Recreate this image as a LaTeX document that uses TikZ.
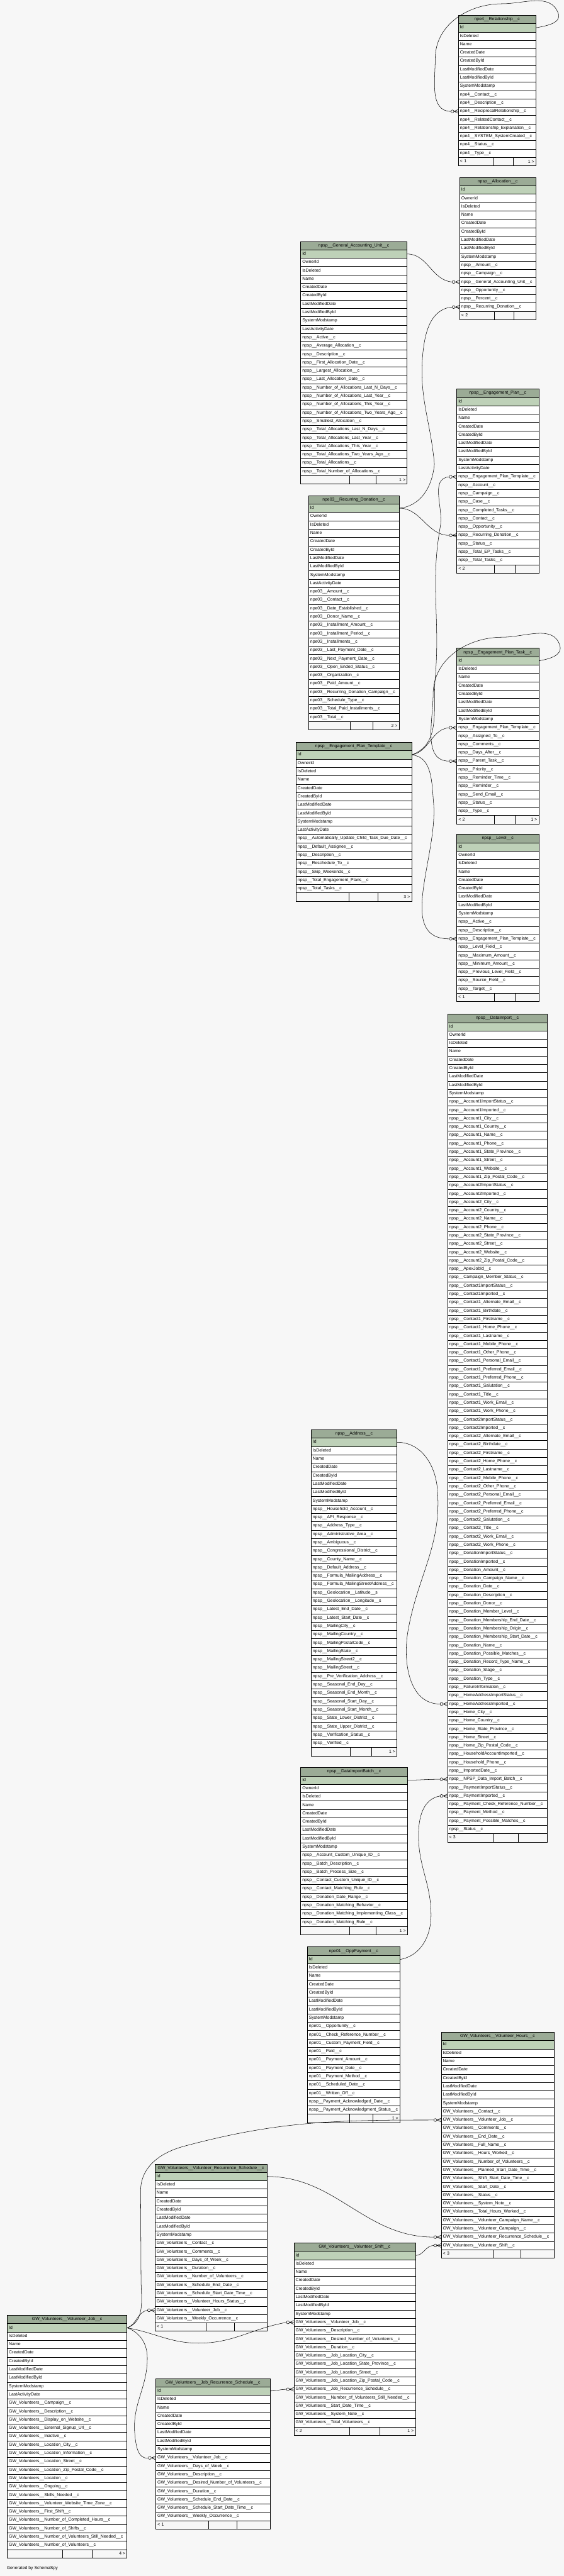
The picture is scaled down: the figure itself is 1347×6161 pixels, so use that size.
\documentclass[tikz,border=0pt]{standalone}
\usepackage{fontspec}
\setmainfont{Liberation Sans}

\definecolor{canvas}{HTML}{F7F7F7}
\definecolor{headfill}{HTML}{9BAB96}
\definecolor{keyfill}{HTML}{BED1B8}

\tikzset{
  tblcell/.style={draw, line width=0.8pt, inner xsep=4pt, inner ysep=0pt, minimum height=20pt,
    text height=7.5pt, text depth=2.5pt, align=left, font=\fontsize{10.4}{12}\selectfont},
  tblhead/.style={tblcell, fill=headfill, align=center},
  tblkey/.style={tblcell, fill=keyfill},
  tblrow/.style={tblcell, fill=white},
  tblfoot/.style={tblcell, fill=canvas},
  relline/.style={line width=0.8pt},
}

\newcount\nrows
% #1 prefix, #2 left, #3 right, #4 top, #5 title, #6 footer left, #7 footer right, #8 columns
\newcommand{\dbtable}[8]{%
  \pgfmathsetmacro{\tw}{#3-#2-8}
  \node[tblhead, text width=\tw pt, anchor=north west] (#1-0) at (#2,#4) {#5};
  \foreach \col [count=\i] in {#8} {
    \ifnum\i=1 \def\rowstyle{tblkey}\else\def\rowstyle{tblrow}\fi
    \node[\rowstyle, text width=\tw pt, anchor=north west] (#1-\i) at (#2,#4+20*\i) {\col};
    \global\nrows=\i
  }
  \pgfmathsetmacro{\fy}{#4+20*(\the\nrows+1)}
  \node[tblfoot, text width=\tw pt, anchor=north west] (#1-foot) at (#2,\fy) {#6};
  \node[anchor=east, inner xsep=4pt, font=\fontsize{10.4}{12}\selectfont] (#1-more) at (#1-foot.east) {#7};
  \draw[line width=0.8pt] (#2+0.46*#3-0.46*#2,\fy) -- ++(0,20);
  \draw[line width=0.8pt] (#2+0.71*#3-0.71*#2,\fy) -- ++(0,20);
}

% zero-or-many end at the west side of a column
\newcommand{\crowfoot}[1]{%
  \begin{scope}[shift={(#1.west)}]
    \draw[relline] (-10,0) -- (0,-4.5) (-10,0) -- (0,0) (-10,0) -- (0,4.5);
    \draw[relline, fill=canvas] (-14,0) circle (3.5);
  \end{scope}}

\begin{document}
\catcode`\_=12
\begin{tikzpicture}[x=1pt, y=-1pt]
  \fill[canvas] (0,0) rectangle (1347,6161);
  \useasboundingbox (0,0) rectangle (1347,6161);

  % right column
  \dbtable{rel}{1095}{1280}{36}{npe4__Relationship__c}{< 1}{1 >}{Id, IsDeleted, Name, CreatedDate, CreatedById,
    LastModifiedDate, LastModifiedById, SystemModstamp, npe4__Contact__c, npe4__Description__c,
    npe4__ReciprocalRelationship__c, npe4__RelatedContact__c, npe4__Relationship_Explanation__c,
    npe4__SYSTEM_SystemCreated__c, npe4__Status__c, npe4__Type__c}
  \dbtable{alloc}{1098}{1280}{424}{npsp__Allocation__c}{< 2}{}{Id, OwnerId, IsDeleted, Name, CreatedDate,
    CreatedById, LastModifiedDate, LastModifiedById, SystemModstamp, npsp__Amount__c, npsp__Campaign__c,
    npsp__General_Accounting_Unit__c, npsp__Opportunity__c, npsp__Percent__c, npsp__Recurring_Donation__c}
  \dbtable{ep}{1091}{1287}{930}{npsp__Engagement_Plan__c}{< 2}{}{Id, IsDeleted, Name, CreatedDate, CreatedById,
    LastModifiedDate, LastModifiedById, SystemModstamp, LastActivityDate, npsp__Engagement_Plan_Template__c,
    npsp__Account__c, npsp__Campaign__c, npsp__Case__c, npsp__Completed_Tasks__c, npsp__Contact__c,
    npsp__Opportunity__c, npsp__Recurring_Donation__c, npsp__Status__c, npsp__Total_EP_Tasks__c,
    npsp__Total_Tasks__c}
  \dbtable{eptask}{1091}{1287}{1550}{npsp__Engagement_Plan_Task__c}{< 2}{1 >}{Id, IsDeleted, Name, CreatedDate,
    CreatedById, LastModifiedDate, LastModifiedById, SystemModstamp, npsp__Engagement_Plan_Template__c,
    npsp__Assigned_To__c, npsp__Comments__c, npsp__Days_After__c, npsp__Parent_Task__c, npsp__Priority__c,
    npsp__Reminder_Time__c, npsp__Reminder__c, npsp__Send_Email__c, npsp__Status__c, npsp__Type__c}
  \dbtable{level}{1091}{1287}{1995}{npsp__Level__c}{< 1}{}{Id, OwnerId, IsDeleted, Name, CreatedDate,
    CreatedById, LastModifiedDate, LastModifiedById, SystemModstamp, npsp__Active__c, npsp__Description__c,
    npsp__Engagement_Plan_Template__c, npsp__Level_Field__c, npsp__Maximum_Amount__c, npsp__Minimum_Amount__c,
    npsp__Previous_Level_Field__c, npsp__Source_Field__c, npsp__Target__c}
  \dbtable{di}{1069}{1307}{2425}{npsp__DataImport__c}{< 3}{}{Id, OwnerId, IsDeleted, Name, CreatedDate,
    CreatedById, LastModifiedDate, LastModifiedById, SystemModstamp,
    npsp__Account1ImportStatus__c, npsp__Account1Imported__c, npsp__Account1_City__c, npsp__Account1_Country__c,
    npsp__Account1_Name__c, npsp__Account1_Phone__c, npsp__Account1_State_Province__c, npsp__Account1_Street__c,
    npsp__Account1_Website__c, npsp__Account1_Zip_Postal_Code__c,
    npsp__Account2ImportStatus__c, npsp__Account2Imported__c, npsp__Account2_City__c, npsp__Account2_Country__c,
    npsp__Account2_Name__c, npsp__Account2_Phone__c, npsp__Account2_State_Province__c, npsp__Account2_Street__c,
    npsp__Account2_Website__c, npsp__Account2_Zip_Postal_Code__c,
    npsp__ApexJobId__c, npsp__Campaign_Member_Status__c,
    npsp__Contact1ImportStatus__c, npsp__Contact1Imported__c, npsp__Contact1_Alternate_Email__c,
    npsp__Contact1_Birthdate__c, npsp__Contact1_Firstname__c, npsp__Contact1_Home_Phone__c,
    npsp__Contact1_Lastname__c, npsp__Contact1_Mobile_Phone__c, npsp__Contact1_Other_Phone__c,
    npsp__Contact1_Personal_Email__c, npsp__Contact1_Preferred_Email__c, npsp__Contact1_Preferred_Phone__c,
    npsp__Contact1_Salutation__c, npsp__Contact1_Title__c, npsp__Contact1_Work_Email__c,
    npsp__Contact1_Work_Phone__c,
    npsp__Contact2ImportStatus__c, npsp__Contact2Imported__c, npsp__Contact2_Alternate_Email__c,
    npsp__Contact2_Birthdate__c, npsp__Contact2_Firstname__c, npsp__Contact2_Home_Phone__c,
    npsp__Contact2_Lastname__c, npsp__Contact2_Mobile_Phone__c, npsp__Contact2_Other_Phone__c,
    npsp__Contact2_Personal_Email__c, npsp__Contact2_Preferred_Email__c, npsp__Contact2_Preferred_Phone__c,
    npsp__Contact2_Salutation__c, npsp__Contact2_Title__c, npsp__Contact2_Work_Email__c,
    npsp__Contact2_Work_Phone__c,
    npsp__DonationImportStatus__c, npsp__DonationImported__c, npsp__Donation_Amount__c,
    npsp__Donation_Campaign_Name__c, npsp__Donation_Date__c, npsp__Donation_Description__c,
    npsp__Donation_Donor__c, npsp__Donation_Member_Level__c, npsp__Donation_Membership_End_Date__c,
    npsp__Donation_Membership_Origin__c, npsp__Donation_Membership_Start_Date__c, npsp__Donation_Name__c,
    npsp__Donation_Possible_Matches__c, npsp__Donation_Record_Type_Name__c, npsp__Donation_Stage__c,
    npsp__Donation_Type__c, npsp__FailureInformation__c, npsp__HomeAddressImportStatus__c,
    npsp__HomeAddressImported__c, npsp__Home_City__c, npsp__Home_Country__c, npsp__Home_State_Province__c,
    npsp__Home_Street__c, npsp__Home_Zip_Postal_Code__c, npsp__HouseholdAccountImported__c,
    npsp__Household_Phone__c, npsp__ImportedDate__c, npsp__NPSP_Data_Import_Batch__c,
    npsp__PaymentImportStatus__c, npsp__PaymentImported__c, npsp__Payment_Check_Reference_Number__c,
    npsp__Payment_Method__c, npsp__Payment_Possible_Matches__c, npsp__Status__c}
  \dbtable{vh}{1054}{1323}{4860}{GW_Volunteers__Volunteer_Hours__c}{< 3}{}{Id, IsDeleted, Name, CreatedDate,
    CreatedById, LastModifiedDate, LastModifiedById, SystemModstamp, GW_Volunteers__Contact__c,
    GW_Volunteers__Volunteer_Job__c, GW_Volunteers__Comments__c, GW_Volunteers__End_Date__c,
    GW_Volunteers__Full_Name__c, GW_Volunteers__Hours_Worked__c, GW_Volunteers__Number_of_Volunteers__c,
    GW_Volunteers__Planned_Start_Date_Time__c, GW_Volunteers__Shift_Start_Date_Time__c,
    GW_Volunteers__Start_Date__c, GW_Volunteers__Status__c, GW_Volunteers__System_Note__c,
    GW_Volunteers__Total_Hours_Worked__c, GW_Volunteers__Volunteer_Campaign_Name__c,
    GW_Volunteers__Volunteer_Campaign__c, GW_Volunteers__Volunteer_Recurrence_Schedule__c,
    GW_Volunteers__Volunteer_Shift__c}

  % middle column
  \dbtable{gau}{718}{972}{577}{npsp__General_Accounting_Unit__c}{}{1 >}{Id, OwnerId, IsDeleted, Name,
    CreatedDate, CreatedById, LastModifiedDate, LastModifiedById, SystemModstamp, LastActivityDate,
    npsp__Active__c, npsp__Average_Allocation__c, npsp__Description__c, npsp__First_Allocation_Date__c,
    npsp__Largest_Allocation__c, npsp__Last_Allocation_Date__c, npsp__Number_of_Allocations_Last_N_Days__c,
    npsp__Number_of_Allocations_Last_Year__c, npsp__Number_of_Allocations_This_Year__c,
    npsp__Number_of_Allocations_Two_Years_Ago__c, npsp__Smallest_Allocation__c,
    npsp__Total_Allocations_Last_N_Days__c, npsp__Total_Allocations_Last_Year__c,
    npsp__Total_Allocations_This_Year__c, npsp__Total_Allocations_Two_Years_Ago__c,
    npsp__Total_Allocations__c, npsp__Total_Number_of_Allocations__c}
  \dbtable{rd}{737}{953}{1185}{npe03__Recurring_Donation__c}{}{2 >}{Id, OwnerId, IsDeleted, Name, CreatedDate,
    CreatedById, LastModifiedDate, LastModifiedById, SystemModstamp, LastActivityDate, npe03__Amount__c,
    npe03__Contact__c, npe03__Date_Established__c, npe03__Donor_Name__c, npe03__Installment_Amount__c,
    npe03__Installment_Period__c, npe03__Installments__c, npe03__Last_Payment_Date__c,
    npe03__Next_Payment_Date__c, npe03__Open_Ended_Status__c, npe03__Organization__c, npe03__Paid_Amount__c,
    npe03__Recurring_Donation_Campaign__c, npe03__Schedule_Type__c, npe03__Total_Paid_Installments__c,
    npe03__Total__c}
  \dbtable{ept}{707}{983}{1775}{npsp__Engagement_Plan_Template__c}{}{3 >}{Id, OwnerId, IsDeleted, Name,
    CreatedDate, CreatedById, LastModifiedDate, LastModifiedById, SystemModstamp, LastActivityDate,
    npsp__Automatically_Update_Child_Task_Due_Date__c, npsp__Default_Assignee__c, npsp__Description__c,
    npsp__Reschedule_To__c, npsp__Skip_Weekends__c, npsp__Total_Engagement_Plans__c, npsp__Total_Tasks__c}
  \dbtable{addr}{743}{948}{3419}{npsp__Address__c}{}{1 >}{Id, IsDeleted, Name, CreatedDate, CreatedById,
    LastModifiedDate, LastModifiedById, SystemModstamp, npsp__Household_Account__c, npsp__API_Response__c,
    npsp__Address_Type__c, npsp__Administrative_Area__c, npsp__Ambiguous__c, npsp__Congressional_District__c,
    npsp__County_Name__c, npsp__Default_Address__c, npsp__Formula_MailingAddress__c,
    npsp__Formula_MailingStreetAddress__c, npsp__Geolocation__Latitude__s, npsp__Geolocation__Longitude__s,
    npsp__Latest_End_Date__c, npsp__Latest_Start_Date__c, npsp__MailingCity__c, npsp__MailingCountry__c,
    npsp__MailingPostalCode__c, npsp__MailingState__c, npsp__MailingStreet2__c, npsp__MailingStreet__c,
    npsp__Pre_Verification_Address__c, npsp__Seasonal_End_Day__c, npsp__Seasonal_End_Month__c,
    npsp__Seasonal_Start_Day__c, npsp__Seasonal_Start_Month__c, npsp__State_Lower_District__c,
    npsp__State_Upper_District__c, npsp__Verification_Status__c, npsp__Verified__c}
  \dbtable{dib}{718}{973}{4227}{npsp__DataImportBatch__c}{}{1 >}{Id, OwnerId, IsDeleted, Name, CreatedDate,
    CreatedById, LastModifiedDate, LastModifiedById, SystemModstamp, npsp__Account_Custom_Unique_ID__c,
    npsp__Batch_Description__c, npsp__Batch_Process_Size__c, npsp__Contact_Custom_Unique_ID__c,
    npsp__Contact_Matching_Rule__c, npsp__Donation_Date_Range__c, npsp__Donation_Matching_Behavior__c,
    npsp__Donation_Matching_Implementing_Class__c, npsp__Donation_Matching_Rule__c}
  \dbtable{opp}{734}{955}{4656}{npe01__OppPayment__c}{}{1 >}{Id, IsDeleted, Name, CreatedDate, CreatedById,
    LastModifiedDate, LastModifiedById, SystemModstamp, npe01__Opportunity__c,
    npe01__Check_Reference_Number__c, npe01__Custom_Payment_Field__c, npe01__Paid__c,
    npe01__Payment_Amount__c, npe01__Payment_Date__c, npe01__Payment_Method__c, npe01__Scheduled_Date__c,
    npe01__Written_Off__c, npsp__Payment_Acknowledged_Date__c, npsp__Payment_Acknowledgment_Status__c}

  % volunteers
  \dbtable{vrs}{370}{637}{5175}{GW_Volunteers__Volunteer_Recurrence_Schedule__c}{< 1}{}{Id, IsDeleted, Name,
    CreatedDate, CreatedById, LastModifiedDate, LastModifiedById, SystemModstamp, GW_Volunteers__Contact__c,
    GW_Volunteers__Comments__c, GW_Volunteers__Days_of_Week__c, GW_Volunteers__Duration__c,
    GW_Volunteers__Number_of_Volunteers__c, GW_Volunteers__Schedule_End_Date__c,
    GW_Volunteers__Schedule_Start_Date_Time__c, GW_Volunteers__Volunteer_Hours_Status__c,
    GW_Volunteers__Volunteer_Job__c, GW_Volunteers__Weekly_Occurrence__c}
  \dbtable{shift}{702}{992}{5364}{GW_Volunteers__Volunteer_Shift__c}{< 2}{1 >}{Id, IsDeleted, Name,
    CreatedDate, CreatedById, LastModifiedDate, LastModifiedById, SystemModstamp,
    GW_Volunteers__Volunteer_Job__c, GW_Volunteers__Description__c,
    GW_Volunteers__Desired_Number_of_Volunteers__c, GW_Volunteers__Duration__c,
    GW_Volunteers__Job_Location_City__c, GW_Volunteers__Job_Location_State_Province__c,
    GW_Volunteers__Job_Location_Street__c, GW_Volunteers__Job_Location_Zip_Postal_Code__c,
    GW_Volunteers__Job_Recurrence_Schedule__c, GW_Volunteers__Number_of_Volunteers_Still_Needed__c,
    GW_Volunteers__Start_Date_Time__c, GW_Volunteers__System_Note__c, GW_Volunteers__Total_Volunteers__c}
  \dbtable{job}{17}{303}{5537}{GW_Volunteers__Volunteer_Job__c}{}{4 >}{Id, IsDeleted, Name, CreatedDate,
    CreatedById, LastModifiedDate, LastModifiedById, SystemModstamp, LastActivityDate,
    GW_Volunteers__Campaign__c, GW_Volunteers__Description__c, GW_Volunteers__Display_on_Website__c,
    GW_Volunteers__External_Signup_Url__c, GW_Volunteers__Inactive__c, GW_Volunteers__Location_City__c,
    GW_Volunteers__Location_Information__c, GW_Volunteers__Location_Street__c,
    GW_Volunteers__Location_Zip_Postal_Code__c, GW_Volunteers__Location__c, GW_Volunteers__Ongoing__c,
    GW_Volunteers__Skills_Needed__c, GW_Volunteers__Volunteer_Website_Time_Zone__c,
    GW_Volunteers__First_Shift__c, GW_Volunteers__Number_of_Completed_Hours__c,
    GW_Volunteers__Number_of_Shifts__c, GW_Volunteers__Number_of_Volunteers_Still_Needed__c,
    GW_Volunteers__Number_of_Volunteers__c}
  \dbtable{jrs}{372}{645}{5688}{GW_Volunteers__Job_Recurrence_Schedule__c}{< 1}{}{Id, IsDeleted, Name,
    CreatedDate, CreatedById, LastModifiedDate, LastModifiedById, SystemModstamp,
    GW_Volunteers__Volunteer_Job__c, GW_Volunteers__Days_of_Week__c, GW_Volunteers__Description__c,
    GW_Volunteers__Desired_Number_of_Volunteers__c, GW_Volunteers__Duration__c,
    GW_Volunteers__Schedule_End_Date__c, GW_Volunteers__Schedule_Start_Date_Time__c,
    GW_Volunteers__Weekly_Occurrence__c}

  \node[anchor=west, inner sep=0pt, font=\fontsize{10.4}{12}\selectfont] (credit) at (16,6143) {Generated by SchemaSpy};

  % relationships
  \draw[relline] (rel-1.east) to[out=10,in=-70] (1334,32) to[out=110,in=0] (1200,9)
    to[out=180,in=90] (1040,140) to[out=-90,in=180] ([xshift=-17.5pt]rel-11.west);
  \draw[relline] (gau-1.east) to[out=0,in=175] ([xshift=-17.5pt]alloc-12.west);
  \draw[relline] (rd-1.east) to[out=5,in=-95] (1038,1110) to[out=95,in=-95] (1010,850)
    to[out=85,in=185] ([xshift=-17.5pt]alloc-15.west);
  \draw[relline] (rd-1.east) to[out=0,in=180] ([xshift=-17.5pt]ep-17.west);
  \draw[relline] (ept-1.east) to[out=20,in=-95] (1040,1620) to[out=85,in=-100] (1052,1260)
    to[out=80,in=185] ([xshift=-17.5pt]ep-10.west);
  \draw[relline] (ept-1.east) to[out=10,in=185] ([xshift=-17.5pt]eptask-9.west);
  \draw[relline] (ept-1.east) to[out=-5,in=95] (1036,1920) to[out=-85,in=180] ([xshift=-17.5pt]level-12.west);
  \draw[relline] (eptask-1.east) to[out=10,in=-75] (1338,1545) to[out=105,in=0] (1200,1524)
    to[out=180,in=90] (1035,1660) to[out=-90,in=180] ([xshift=-17.5pt]eptask-13.west);
  \draw[relline] (addr-1.east) to[out=0,in=95] (1045,3560) to[out=-85,in=80] (975,3900)
    to[out=-100,in=180] ([xshift=-17.5pt]di-82.west);
  \draw[relline] (dib-1.east) to[out=0,in=180] ([xshift=-17.5pt]di-91.west);
  \draw[relline] (opp-1.east) to[out=10,in=-90] (1030,4580) to[out=90,in=-90] (1000,4390)
    to[out=90,in=190] ([xshift=-17.5pt]di-93.west);
  \draw[relline] (job-1.east) to[out=20,in=190] ([xshift=-17.5pt]vrs-17.west);
  \draw[relline] (job-1.east) to[out=20,in=-90] (337,5450) -- (336,5240) to[out=90,in=195] (440,5133)
    to[out=15,in=180] ([xshift=-17.5pt]vh-10.west);
  \draw[relline] (job-1.east) to[out=-10,in=180] (475,5604) to[out=0,in=190] ([xshift=-17.5pt]shift-9.west);
  \draw[relline] (job-1.east) to[out=-20,in=90] (352,5640) to[out=-90,in=95] (322,5820)
    to[out=-85,in=190] ([xshift=-17.5pt]jrs-9.west);
  \draw[relline] (jrs-1.east) to[out=0,in=180] ([xshift=-17.5pt]shift-17.west);
  \draw[relline] (vrs-1.east) to[out=0,in=180] ([xshift=-17.5pt]vh-24.west);
  \draw[relline] (shift-1.east) to[out=0,in=180] ([xshift=-17.5pt]vh-25.west);

  \foreach \fk in {rel-11, alloc-12, alloc-15, ep-10, ep-17, eptask-9, eptask-13, level-12, di-82, di-91,
    di-93, vrs-17, vh-10, shift-9, jrs-9, shift-17, vh-24, vh-25} {\crowfoot{\fk}}
\end{tikzpicture}
\end{document}
